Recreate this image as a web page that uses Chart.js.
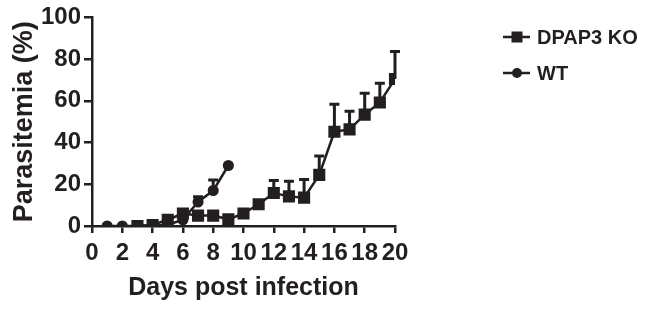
<!DOCTYPE html>
<html>
<head>
<meta charset="utf-8">
<script src="https://cdn.jsdelivr.net/npm/chart.js@4/dist/chart.umd.min.js"></script>
<style>
  html, body { margin: 0; padding: 0; background: #fff; }
  #wrap { width: 652px; height: 315px; position: relative; }
</style>
</head>
<body>
<div id="wrap"><canvas id="parasitemiaChart"></canvas></div>
<script>
// days post infection
const KO_DAYS = [3, 4, 5, 6, 7, 8, 9, 10, 11, 12, 13, 14, 15, 16, 17, 18, 19, 20];
const KO_MEAN = [0, 0.5, 3, 6, 5, 5, 3.2, 6, 10.4, 15.8, 14.2, 13.6, 24.5, 45.2, 46.3, 53.4, 59.2, 70.5];
const KO_ERR  = [0, 0, 0, 1.5, 0, 0, 0, 0, 0, 6, 7.3, 8.7, 9.1, 13.2, 8.7, 10.2, 9.2, 13.2];

const WT_DAYS = [1, 2, 3, 4, 5, 6, 7, 8, 9];
const WT_MEAN = [0, 0, 0, 0.3, 0.5, 3, 11.5, 17, 29];
const WT_ERR  = [0, 0, 0, 0, 0, 0, 2.5, 5, 0];

const X_TICKS = [0, 2, 4, 6, 8, 10, 12, 14, 16, 18, 20];
const Y_TICKS = [0, 20, 40, 60, 80, 100];

const INK = '#231f20';
const FONT = "'Liberation Sans', Arial, Helvetica, sans-serif";

const toPoints = (xs, ys) => xs.map((x, i) => ({ x: x, y: ys[i] }));

// one-sided (upper) error bars, drawn under the markers
const errorBars = {
    id: 'errorBars',
    beforeDatasetsDraw(chart) {
        const ctx = chart.ctx;
        const xs = chart.scales.x, ys = chart.scales.y;
        chart.data.datasets.forEach(ds => {
            ds.data.forEach((p, i) => {
                const e = ds.errUp[i];
                if (!e) return;
                const px = xs.getPixelForValue(p.x);
                const y0 = ys.getPixelForValue(p.y);
                const y1 = ys.getPixelForValue(p.y + e);
                ctx.save();
                ctx.strokeStyle = INK;
                ctx.lineWidth = 3;
                ctx.beginPath();
                ctx.moveTo(px, y0);
                ctx.lineTo(px, y1);
                ctx.moveTo(px - 5, y1);
                ctx.lineTo(px + 5, y1);
                ctx.stroke();
                ctx.restore();
            });
        });
    }
};

// legend at top right: line with marker through it
const sideLegend = {
    id: 'sideLegend',
    afterDraw(chart) {
        const ctx = chart.ctx;
        const rows = [
            { ds: chart.data.datasets[0], y: 37 },
            { ds: chart.data.datasets[1], y: 73 }
        ];
        rows.forEach(r => {
            ctx.save();
            ctx.strokeStyle = INK;
            ctx.fillStyle = INK;
            ctx.lineWidth = 2.5;
            ctx.beginPath();
            ctx.moveTo(503, r.y);
            ctx.lineTo(530, r.y);
            ctx.stroke();
            if (r.ds.pointStyle === 'rect') {
                ctx.fillRect(517 - 5.5, r.y - 5.5, 11, 11);
            } else {
                ctx.beginPath();
                ctx.arc(517, r.y, 5, 0, Math.PI * 2);
                ctx.fill();
            }
            ctx.font = 'bold 20px ' + FONT;
            ctx.textBaseline = 'middle';
            ctx.textAlign = 'left';
            ctx.fillText(r.ds.label, 537, r.y + 1);
            ctx.restore();
        });
    }
};

new Chart(document.getElementById('parasitemiaChart'), {
    type: 'line',
    data: {
        datasets: [
            {
                label: 'DPAP3 KO',
                data: toPoints(KO_DAYS, KO_MEAN),
                errUp: KO_ERR,
                borderColor: INK,
                backgroundColor: INK,
                borderWidth: 2.5,
                pointStyle: 'rect',
                pointRadius: 6.8,
                tension: 0,
                order: 0
            },
            {
                label: 'WT',
                data: toPoints(WT_DAYS, WT_MEAN),
                errUp: WT_ERR,
                borderColor: INK,
                backgroundColor: INK,
                borderWidth: 2.5,
                pointStyle: 'circle',
                pointRadius: 4.3,
                tension: 0,
                order: 1
            }
        ]
    },
    options: {
        responsive: true,
        maintainAspectRatio: false,
        animation: false,
        layout: { padding: { left: 0, right: 257, top: 15, bottom: 0 } },
        plugins: {
            legend: { display: false },
            tooltip: { enabled: false }
        },
        scales: {
            x: {
                type: 'linear',
                min: 0,
                max: 20,
                afterBuildTicks: s => { s.ticks = X_TICKS.map(v => ({ value: v })); },
                afterFit: s => { s.height = 89; },
                grid: { drawOnChartArea: false, color: INK, lineWidth: 2.5, tickLength: 7 },
                border: { color: INK, width: 2.5 },
                ticks: {
                    color: INK,
                    autoSkip: false,
                    maxRotation: 0,
                    padding: 6,
                    font: { family: FONT, size: 24, weight: 'bold' }
                },
                title: {
                    display: true,
                    text: 'Days post infection',
                    color: INK,
                    padding: { top: 0, bottom: 14 },
                    font: { family: FONT, size: 25, weight: 'bold', lineHeight: 1 }
                }
            },
            y: {
                type: 'linear',
                min: 0,
                max: 100,
                afterBuildTicks: s => { s.ticks = Y_TICKS.map(v => ({ value: v })); },
                afterFit: s => { s.width = 92; },
                grid: { drawOnChartArea: false, color: INK, lineWidth: 2.5, tickLength: 8 },
                border: { color: INK, width: 2.5 },
                ticks: {
                    color: INK,
                    padding: 3,
                    font: { family: FONT, size: 24, weight: 'bold' }
                },
                title: {
                    display: true,
                    text: 'Parasitemia (%)',
                    color: INK,
                    padding: { top: 11, bottom: 0 },
                    font: { family: FONT, size: 27, weight: 'bold', lineHeight: 1 }
                }
            }
        }
    },
    plugins: [errorBars, sideLegend]
});
</script>
</body>
</html>
